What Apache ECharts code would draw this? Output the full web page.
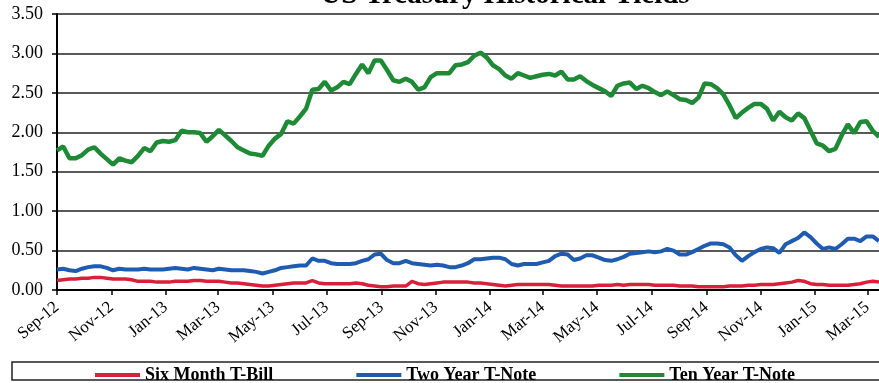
<!DOCTYPE html>
<html>
<head>
<meta charset="utf-8">
<title>US Treasury Historical Yields</title>
<script src="https://cdn.jsdelivr.net/npm/echarts@6/dist/echarts.min.js"></script>
<style>
	html, body { margin: 0; padding: 0; background: #fff; }
	#chart { width: 879px; height: 383px; }
</style>
</head>
<body>
<div id="chart"></div>
<script>
'use strict';

// weekly readings, first week starts on firstWeek
var firstWeek = '2012-09-07',
		weekCount = 133;

var seriesNames = ['Six Month T-Bill', 'Two Year T-Note', 'Ten Year T-Note'];

var sixMonth = [
	0.12, 0.13, 0.14, 0.14, 0.15, 0.15, 0.16, 0.16, 0.15, 0.14,
	0.14, 0.14, 0.13, 0.11, 0.11, 0.11, 0.10, 0.10, 0.10, 0.11,
	0.11, 0.11, 0.12, 0.12, 0.11, 0.11, 0.11, 0.10, 0.09, 0.09,
	0.08, 0.07, 0.06, 0.05, 0.05, 0.06, 0.07, 0.08, 0.09, 0.09,
	0.09, 0.12, 0.09, 0.08, 0.08, 0.08, 0.08, 0.08, 0.09, 0.08,
	0.06, 0.05, 0.04, 0.04, 0.05, 0.05, 0.05, 0.11, 0.08, 0.07,
	0.08, 0.09, 0.10, 0.10, 0.10, 0.10, 0.10, 0.09, 0.09, 0.08,
	0.07, 0.06, 0.05, 0.06, 0.07, 0.07, 0.07, 0.07, 0.07, 0.07,
	0.06, 0.05, 0.05, 0.05, 0.05, 0.05, 0.05, 0.06, 0.06, 0.06,
	0.07, 0.06, 0.07, 0.07, 0.07, 0.07, 0.06, 0.06, 0.06, 0.06,
	0.05, 0.05, 0.05, 0.04, 0.04, 0.04, 0.04, 0.04, 0.05, 0.05,
	0.05, 0.06, 0.06, 0.07, 0.07, 0.07, 0.08, 0.09, 0.10, 0.12,
	0.11, 0.08, 0.07, 0.07, 0.06, 0.06, 0.06, 0.06, 0.07, 0.08,
	0.10, 0.11, 0.10
];

var twoYear = [
	0.26, 0.27, 0.25, 0.24, 0.27, 0.29, 0.30, 0.30, 0.28, 0.25,
	0.27, 0.26, 0.26, 0.26, 0.27, 0.26, 0.26, 0.26, 0.27, 0.28,
	0.27, 0.26, 0.28, 0.27, 0.26, 0.25, 0.27, 0.26, 0.25, 0.25,
	0.25, 0.24, 0.23, 0.21, 0.23, 0.25, 0.28, 0.29, 0.30, 0.31,
	0.31, 0.40, 0.37, 0.37, 0.34, 0.33, 0.33, 0.33, 0.34, 0.37,
	0.39, 0.45, 0.46, 0.38, 0.34, 0.34, 0.37, 0.34, 0.33, 0.32,
	0.31, 0.32, 0.31, 0.29, 0.29, 0.31, 0.34, 0.39, 0.39, 0.40,
	0.41, 0.41, 0.39, 0.33, 0.31, 0.33, 0.33, 0.33, 0.35, 0.37,
	0.43, 0.46, 0.45, 0.38, 0.40, 0.44, 0.44, 0.41, 0.38, 0.37,
	0.39, 0.42, 0.46, 0.47, 0.48, 0.49, 0.48, 0.49, 0.52, 0.50,
	0.45, 0.45, 0.48, 0.52, 0.56, 0.59, 0.59, 0.58, 0.54, 0.44,
	0.37, 0.43, 0.48, 0.52, 0.54, 0.53, 0.47, 0.58, 0.62, 0.66,
	0.73, 0.67, 0.59, 0.52, 0.54, 0.52, 0.58, 0.65, 0.65, 0.62,
	0.68, 0.68, 0.62
];

var tenYear = [
	1.77, 1.82, 1.67, 1.67, 1.71, 1.78, 1.81, 1.73, 1.66, 1.59,
	1.67, 1.64, 1.62, 1.70, 1.80, 1.76, 1.87, 1.89, 1.88, 1.90,
	2.02, 2.00, 2.00, 1.99, 1.88, 1.95, 2.03, 1.96, 1.89, 1.81,
	1.77, 1.73, 1.72, 1.70, 1.83, 1.92, 1.98, 2.14, 2.11, 2.20,
	2.30, 2.54, 2.55, 2.64, 2.53, 2.57, 2.64, 2.61, 2.74, 2.86,
	2.75, 2.91, 2.91, 2.79, 2.66, 2.64, 2.68, 2.64, 2.54, 2.57,
	2.70, 2.75, 2.75, 2.75, 2.85, 2.86, 2.89, 2.97, 3.01, 2.95,
	2.85, 2.80, 2.72, 2.68, 2.75, 2.72, 2.69, 2.71, 2.73, 2.74,
	2.72, 2.77, 2.67, 2.67, 2.71, 2.65, 2.60, 2.56, 2.52, 2.46,
	2.59, 2.62, 2.63, 2.55, 2.59, 2.56, 2.51, 2.47, 2.52, 2.47,
	2.42, 2.41, 2.37, 2.44, 2.62, 2.61, 2.56, 2.48, 2.34, 2.18,
	2.25, 2.31, 2.36, 2.36, 2.30, 2.15, 2.26, 2.19, 2.15, 2.24,
	2.18, 2.02, 1.86, 1.83, 1.76, 1.79, 1.96, 2.10, 1.99, 2.13,
	2.14, 2.02, 1.94
];

var tickDates = [
	'2012-09-07', '2012-11-07', '2013-01-07', '2013-03-07', '2013-05-07', '2013-07-07',
	'2013-09-07', '2013-11-07', '2014-01-07', '2014-03-07', '2014-05-07', '2014-07-07',
	'2014-09-07', '2014-11-07', '2015-01-07', '2015-03-07'
];
var tickLabels = [
	'Sep-12', 'Nov-12', 'Jan-13', 'Mar-13', 'May-13', 'Jul-13',
	'Sep-13', 'Nov-13', 'Jan-14', 'Mar-14', 'May-14', 'Jul-14',
	'Sep-14', 'Nov-14', 'Jan-15', 'Mar-15'
];

var lineColors = ['#d8203a', '#1f5cb0', '#1e8a36'],
		lineWidths = [3.5, 4, 4.5];
var serifFont = '"Liberation Serif", "Times New Roman", serif';

// x is counted in days from firstWeek
function dayOf(s) {
	var p = s.split('-');
	var t = Date.UTC(+p[0], +p[1] - 1, +p[2]),
			p0 = firstWeek.split('-'),
			t0 = Date.UTC(+p0[0], +p0[1] - 1, +p0[2]);
	return Math.round((t - t0) / 86400000);
}

var tickDays = tickDates.map(dayOf),
		lastDay = (weekCount - 1) * 7;

function pairs(values) {
	return values.map(function (v, i) {
		return [i * 7, v];
	});
}

function labelFor(val) {
	var best = 0;
	for (var i = 1; i < tickDays.length; i++) {
		if (Math.abs(tickDays[i] - val) < Math.abs(tickDays[best] - val)) {
			best = i;
		}
	}
	return tickLabels[best];
}

var chart = echarts.init(document.getElementById('chart'), null, {renderer: 'canvas'});

var option = {
	animation: false,
	backgroundColor: '#fff',
	textStyle: {fontFamily: serifFont},
	grid: {left: 57, top: 14, right: 0, bottom: 93},
	graphic: [
		{
			type: 'text',
			z: 10,
			style: {
				text: 'US Treasury Historical Yields',
				x: 505,
				y: -4,
				textAlign: 'center',
				textVerticalAlign: 'middle',
				font: 'bold 29px ' + serifFont,
				fill: '#000'
			}
		},
		{
			// legend frame
			type: 'rect',
			z: 1,
			shape: {x: 12, y: 362, width: 900, height: 18},
			style: {fill: 'none', stroke: '#222', lineWidth: 1.5}
		}
	],
	legend: {
		left: 95,
		top: 366,
		padding: 0,
		itemGap: 83,
		itemWidth: 45,
		itemHeight: 4,
		icon: 'rect',
		data: seriesNames,
		textStyle: {
			fontFamily: serifFont,
			fontWeight: 'bold',
			fontSize: 18,
			color: '#000'
		}
	},
	xAxis: {
		type: 'value',
		min: 0,
		max: lastDay,
		axisLine: {show: true, lineStyle: {color: '#000', width: 2}},
		axisTick: {show: true, length: 5, customValues: tickDays, lineStyle: {color: '#000', width: 1.5}},
		axisLabel: {
			customValues: tickDays,
			rotate: 40,
			margin: 15,
			fontSize: 17,
			fontFamily: serifFont,
			color: '#000',
			formatter: labelFor
		},
		splitLine: {show: false}
	},
	yAxis: {
		type: 'value',
		min: 0,
		max: 3.5,
		interval: 0.5,
		axisLine: {show: true, lineStyle: {color: '#000', width: 2}},
		axisTick: {show: true, length: 5, lineStyle: {color: '#000', width: 1.5}},
		axisLabel: {
			margin: 14,
			fontSize: 18,
			fontFamily: serifFont,
			color: '#000',
			formatter: function (v) { return v.toFixed(2); }
		},
		splitLine: {show: true, lineStyle: {color: '#222', width: 1.5}}
	},
	series: [sixMonth, twoYear, tenYear].map(function (vals, i) {
		return {
			name: seriesNames[i],
			type: 'line',
			data: pairs(vals),
			showSymbol: false,
			symbol: 'none',
			color: lineColors[i],
			lineStyle: {width: lineWidths[i], color: lineColors[i]}
		};
	})
};

chart.setOption(option);
</script>
</body>
</html>
